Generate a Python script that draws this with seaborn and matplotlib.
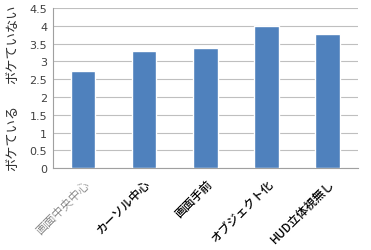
import matplotlib
matplotlib.use("Agg")
import matplotlib.pyplot as plt
import seaborn as sns
import pandas as pd
import numpy as np

categories = ["画面中央中心", "カーソル中心", "画面手前", "オブジェクト化", "HUD立体視無し"]
values = [2.73, 3.28, 3.37, 4.0, 3.78]
yticks = [0, 0.5, 1, 1.5, 2, 2.5, 3, 3.5, 4, 4.5]
ylabel_low = "ボケている"
ylabel_high = "ボケていない"

sns.set_theme(style="white")
plt.rcParams['font.family'] = ['Noto Sans CJK JP', 'DejaVu Sans']

df = pd.DataFrame({"cat": categories, "val": values})

fig = plt.figure(figsize=(3.71, 2.51), dpi=100)
ax = fig.add_axes([0.142, 0.3255, 0.823, 0.6385])
sns.barplot(data=df, x="cat", y="val", color="#4F81BD", saturation=1, width=0.4, ax=ax, zorder=3)

ax.set_ylim(0, 4.5)
ax.set_xlim(-0.5, len(categories) - 0.5)
ax.set_yticks(yticks)
ax.set_yticklabels([f"{t:g}" for t in yticks], fontsize=8, color="#404040", family=['DejaVu Sans'])
ax.yaxis.grid(True, color="#BFBFBF", linewidth=0.8, zorder=0)
ax.set_axisbelow(True)
ax.tick_params(axis='y', length=0, pad=4)
for s in ["top", "right"]:
    ax.spines[s].set_visible(False)
for s in ["left", "bottom"]:
    ax.spines[s].set_color("#A0A0A0")
    ax.spines[s].set_linewidth(0.8)

ax.set_xticks(range(len(categories)))
ax.set_xticklabels(categories, rotation=45, ha="right", rotation_mode="anchor", fontsize=8.5)
ax.tick_params(axis='x', which='major', length=0, pad=6)
ax.set_xticks(np.arange(-0.5, len(categories), 1), minor=True)
ax.tick_params(axis='x', which='minor', length=4, color="#A0A0A0", width=0.8, direction='out')
labels = ax.get_xticklabels()
labels[0].set_color("#707070")
labels[0].set_fontweight("light")
for lab in labels[1:]:
    lab.set_color("#000000")
    lab.set_fontweight("medium")

ax.set_xlabel("")
ax.set_ylabel("")
fig.text(0.034, 1 - 138 / 251, ylabel_low, rotation=90, ha="center", va="center", fontsize=9.5, color="#303030")
fig.text(0.034, 1 - 44 / 251, ylabel_high, rotation=90, ha="center", va="center", fontsize=9.5, color="#303030")

fig.savefig("out.png", dpi=100, facecolor="white")
